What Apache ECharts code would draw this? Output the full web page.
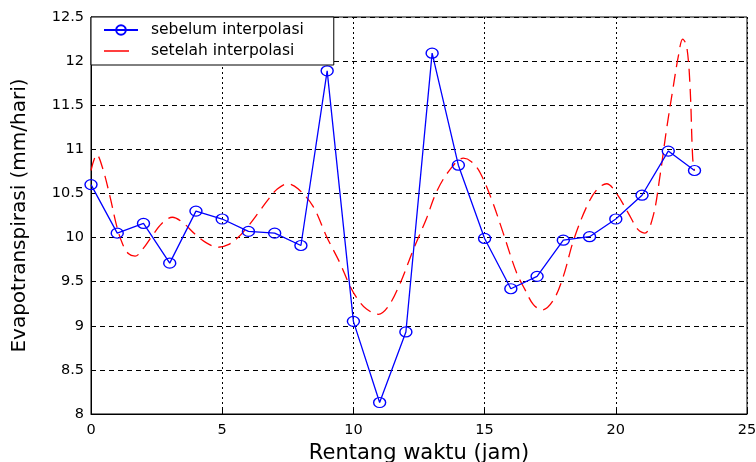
<!DOCTYPE html>
<html><head><meta charset="utf-8">
<script src="https://cdn.jsdelivr.net/npm/echarts@6/dist/echarts.min.js"></script>
<style>html,body{margin:0;padding:0;background:#fff}#c{width:756px;height:462px}</style>
</head><body><div id="c"></div>
<script>
const hours = [0,1,2,3,4,5,6,7,8,9,10,11,12,13,14,15,16,17,18,19,20,21,22,23];
const sebelum = [10.6,10.05,10.16,9.71,10.30,10.21,10.07,10.05,9.91,11.89,9.05,8.13,8.93,12.09,10.82,9.99,9.42,9.56,9.97,10.01,10.21,10.48,10.98,10.76];
const setelahX = [0,0.22,0.45,0.72,0.98,1.2,1.42,1.68,2.0,2.31,2.7,3.1,3.5,3.96,4.4,4.85,5.23,5.6,5.99,6.4,6.75,7.1,7.5,7.9,8.47,8.98,9.49,9.87,10.19,10.5,10.95,11.33,11.78,12.28,12.79,13.17,13.68,14.19,14.5,14.82,15.27,15.71,16.22,16.54,16.86,17.2,17.62,18.0,18.39,18.89,19.27,19.65,20.03,20.47,20.85,21.11,21.42,21.68,21.93,22.19,22.38,22.55,22.7,22.83,22.93,23];
const setelahY = [10.76,10.94,10.78,10.47,10.13,9.93,9.82,9.79,9.88,10.01,10.16,10.23,10.17,10.04,9.94,9.89,9.92,10.0,10.13,10.29,10.43,10.55,10.61,10.55,10.35,10.01,9.71,9.45,9.29,9.19,9.13,9.22,9.48,9.86,10.22,10.52,10.77,10.90,10.86,10.74,10.43,10.05,9.6,9.41,9.24,9.18,9.29,9.56,9.97,10.35,10.54,10.61,10.5,10.28,10.09,10.05,10.24,10.69,11.22,11.71,12.05,12.25,12.17,11.71,10.9,10.76];
const xTicks = [0,5,10,15,20,25];
const yTicks = [8,8.5,9,9.5,10,10.5,11,11.5,12,12.5];

const font = 'DejaVu Sans, Liberation Sans, Arial, sans-serif';
const chart = echarts.init(document.getElementById('c'), null, {renderer:'canvas'});
chart.setOption({
  animation:false,
  backgroundColor:'#fff',
  grid:{left:91,right:9,top:17,bottom:48,show:true,borderColor:'#000',borderWidth:1,
        containLabel:false, outerBoundsMode:'none'},
  legend:{
    orient:'vertical', left:91, top:17, itemGap:5, itemWidth:34, itemHeight:12,
    padding:[5,30,6,12], backgroundColor:'#fff', borderColor:'#000', borderWidth:1, borderRadius:0,
    textStyle:{fontFamily:font,fontSize:15.5,color:'#000',padding:[0,0,0,8]},
    data:[
      {name:'sebelum interpolasi'},
      {name:'setelah interpolasi',
       icon:'path://M0,5.35h25v1.3h-25z M33.95,0h0.05v0.05h-0.05z M33.95,11.95h0.05v0.05h-0.05z',
       itemStyle:{color:'#ff0000',borderWidth:0}}
    ]
  },
  xAxis:{
    type:'value', min:xTicks[0], max:xTicks[xTicks.length-1], interval:5,
    name:'Rentang waktu (jam)', nameLocation:'middle', nameGap:25,
    nameTextStyle:{fontFamily:font,fontSize:21,color:'#000'},
    axisLine:{lineStyle:{color:'#000',width:1}},
    axisTick:{inside:true,length:5,lineStyle:{color:'#000'}},
    axisLabel:{fontFamily:font,fontSize:14.5,color:'#000',margin:9},
    splitLine:{show:true,lineStyle:{color:'#000',type:[2,3],width:1}}
  },
  yAxis:{
    type:'value', min:yTicks[0], max:yTicks[yTicks.length-1], interval:0.5,
    name:'Evapotranspirasi (mm/hari)', nameLocation:'middle', nameGap:61,
    nameTextStyle:{fontFamily:font,fontSize:20,color:'#000'},
    axisLine:{lineStyle:{color:'#000',width:1}},
    axisTick:{inside:true,length:5,lineStyle:{color:'#000'}},
    axisLabel:{fontFamily:font,fontSize:14.5,color:'#000',margin:7},
    splitLine:{show:true,lineStyle:{color:'#000',type:[5,4],width:1}}
  },
  series:[
    {name:'sebelum interpolasi', type:'line', data:hours.map((h,i)=>[h,sebelum[i]]),
     symbol:'circle', symbolSize:[12,10], showAllSymbol:true,
     itemStyle:{color:'rgba(255,255,255,0)',borderColor:'#0000ff',borderWidth:1.3},
     lineStyle:{color:'#0000ff',width:1.3}, z:3},
    {name:'setelah interpolasi', type:'line', data:setelahX.map((x,i)=>[x,setelahY[i]]),
     symbol:'none', smooth:0.35,
     itemStyle:{color:'#ff0000'},
     lineStyle:{color:'#ff0000',width:1.3,type:[13,7]}, z:2}
  ]
});
</script></body></html>
